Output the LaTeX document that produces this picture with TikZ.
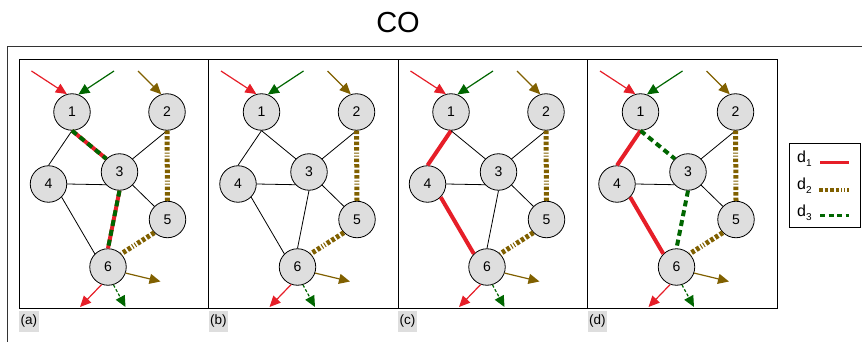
\documentclass[tikz,border=0pt]{standalone}
\usepackage{fontspec}
\setmainfont{Liberation Sans}
\usetikzlibrary{arrows.meta}
\definecolor{cred}{RGB}{230,30,40}
\definecolor{cbrown}{RGB}{128,96,0}
\definecolor{cgreen}{RGB}{0,102,0}
\definecolor{nodegray}{RGB}{222,222,222}
\definecolor{labgray}{RGB}{222,222,222}
\newcommand\panelbase[3]{%
\begin{scope}[xshift=#1pt]
  \draw[panelbox] (0,59) rectangle (189.5,308);
  \node[panellab] (#2lab) at (0,310.5) {(#3)};
  \node[vtx] (#21) at (53,112) {1};
  \node[vtx] (#22) at (148,112) {2};
  \node[vtx] (#23) at (100.5,172) {3};
  \node[vtx] (#24) at (29.5,184) {4};
  \node[vtx] (#25) at (148.5,219.5) {5};
  \node[vtx] (#26) at (89,267) {6};
  \coordinate (#2s1) at (12.5,71);
  \coordinate (#2s2) at (95,71);
  \coordinate (#2s3) at (119,71);
  \coordinate (#2t1) at (61,307);
  \coordinate (#2t2) at (106.5,307);
  \coordinate (#2t3) at (141.5,281.5);
  \draw[arr,cred] (#2s1) -- (#21.106);
  \draw[arr,cgreen] (#2s2) -- (#21.70);
  \draw[arr,cbrown] (#2s3) -- (#22.108);
  \draw[arr,cred] (#26.250) -- (#2t1);
  \draw[arr,cgreen,dash pattern=on 3pt off 2pt] (#26.287) -- (#2t2);
  \draw[arr,cbrown] (#26.-19) -- (#2t3);
  \draw[thinedge] (#22.south) -- (#23.45);
  \draw[thinedge] (#24.east) -- (#23.223);
  \draw[thinedge] (#23.-45) -- (#25.135);
  \draw[dtwo] (#22.south) -- (#25.north);
  \draw[dtwo] (#25.225) -- (#26.45);
\end{scope}}
\begin{document}
\begin{tikzpicture}[x=1pt,y=-1pt,
  vtx/.style={circle,draw=black,line width=0.8pt,fill=nodegray,minimum size=36.5pt,inner sep=0pt,font=\fontsize{14}{14}\selectfont},
  panelbox/.style={draw=black,line width=0.9pt},
  panellab/.style={anchor=north west,fill=labgray,inner xsep=1.5pt,inner ysep=0pt,minimum height=21pt,font=\fontsize{13.5}{13.5}\selectfont},
  arr/.style={line width=1.2pt,-{Triangle[length=11pt,width=10pt]}},
  thinedge/.style={draw=black,line width=0.8pt},
  done/.style={draw=cred,line width=4pt},
  dtwo/.style={draw=cbrown,line width=5pt,dash pattern=on 3.5pt off 2pt on 3.5pt off 2pt on 3.5pt off 2pt on 3.5pt off 2pt on 1pt off 2pt on 1pt off 2pt},
  dthree/.style={draw=cgreen,line width=4pt,dash pattern=on 6pt off 4pt},
  frame/.style={draw=black!80,line width=1pt}]
\useasboundingbox (0,0) rectangle (862,342);
\node[font=\fontsize{29}{29}\selectfont] (title) at (398,23) {CO};
\draw[frame] (7.5,350) -- (7.5,47) -- (870,47);
% (a)
\panelbase{19}{a}{a}
\draw[thinedge] (a1.south) -- (a4.north);
\draw[thinedge] (a4.-45) -- (a6.135);
\draw[done] (a1.south) -- (a3.135);
\draw[dthree] (a1.south) -- (a3.135);
\draw[done] (a3.south) -- (a6.north);
\draw[dthree] (a3.south) -- (a6.north);
% (b)
\panelbase{208.5}{b}{b}
\draw[thinedge] (b1.south) -- (b4.north);
\draw[thinedge] (b4.-45) -- (b6.135);
\draw[thinedge] (b1.south) -- (b3.135);
\draw[thinedge] (b3.south) -- (b6.north);
% (c)
\panelbase{398}{c}{c}
\draw[done] (c1.south) -- (c4.north);
\draw[done] (c4.-45) -- (c6.135);
\draw[thinedge] (c1.south) -- (c3.135);
\draw[thinedge] (c3.south) -- (c6.north);
% (d)
\panelbase{587.5}{d}{d}
\draw[done] (d1.south) -- (d4.north);
\draw[done] (d4.-45) -- (d6.135);
\draw[dthree] (d1.south) -- (d3.135);
\draw[dthree] (d3.south) -- (d6.north);
% legend
\draw[panelbox] (789,143) rectangle (860,227);
\node[anchor=base west,inner sep=0pt,font=\fontsize{16}{16}\selectfont] (l1) at (797,163) {d\raisebox{-4pt}{\fontsize{10}{10}\selectfont 1}};
\node[anchor=base west,inner sep=0pt,font=\fontsize{16}{16}\selectfont] (l2) at (797,189.5) {d\raisebox{-4pt}{\fontsize{10}{10}\selectfont 2}};
\node[anchor=base west,inner sep=0pt,font=\fontsize{16}{16}\selectfont] (l3) at (797,216) {d\raisebox{-4pt}{\fontsize{10}{10}\selectfont 3}};
\coordinate (l1a) at (820,162.5); \coordinate (l1b) at (849,162.5);
\coordinate (l2a) at (819,189.5); \coordinate (l2b) at (849,189.5);
\coordinate (l3a) at (820,215.5); \coordinate (l3b) at (849,215.5);
\draw[done,line width=3pt] (l1a) -- (l1b);
\draw[dtwo,line width=4pt] (l2a) -- (l2b);
\draw[dthree,line width=3pt,dash pattern=on 5pt off 3.5pt] (l3a) -- (l3b);
\end{tikzpicture}
\end{document}
